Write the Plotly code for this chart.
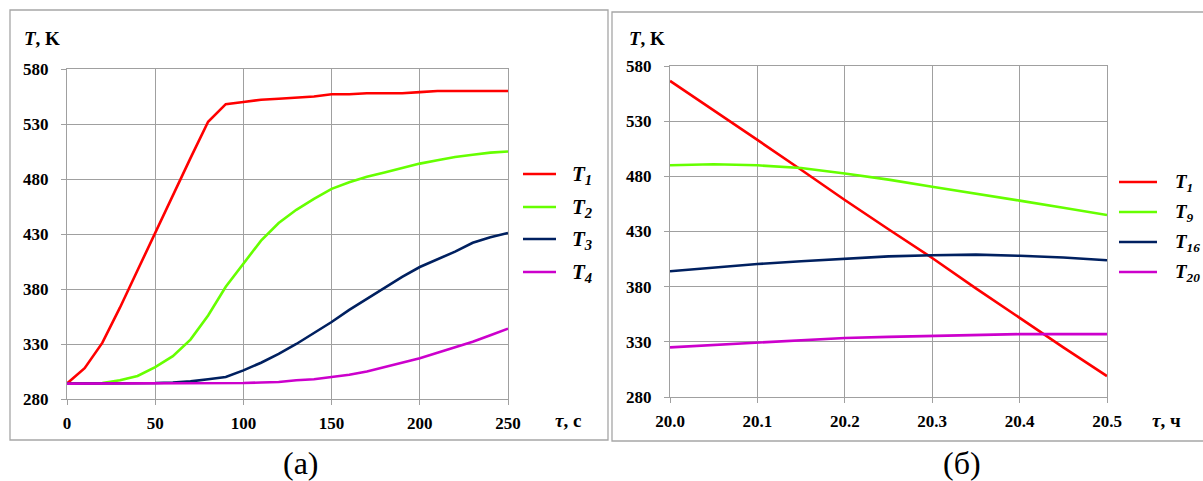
import plotly.graph_objects as go

# ---- panel (a): heating, time in seconds ----
tau_s = [0, 10, 20, 30, 40, 50, 60, 70, 80, 90, 100, 110, 120, 130, 140, 150,
         160, 170, 180, 190, 200, 210, 220, 230, 240, 250]
T1_a = [294, 308, 331, 363, 397, 431, 466, 499, 532, 548, 550, 552, 553, 554, 555, 557,
        557, 558, 558, 558, 559, 560, 560, 560, 560, 560]
T2_a = [294, 294, 294.5, 297, 301, 309, 319, 334, 356, 382, 403, 424, 440, 452, 462, 471,
        477, 482, 486, 490, 494, 497, 500, 502, 504, 505]
T3_a = [294, 294, 294, 294, 294, 294.5, 295, 296, 298, 300, 306, 313, 321, 330, 340, 350,
        361, 371, 381, 391, 400, 407, 414, 422, 427, 431]
T4_a = [294, 294, 294, 294, 294, 294, 294, 294, 294, 294, 294.5, 295, 295.5, 297, 298, 300,
        302, 305, 309, 313, 317, 322, 327, 332, 338, 344]

# ---- panel (б): cooling, time in hours ----
tau_h = [20.0, 20.05, 20.1, 20.15, 20.2, 20.25, 20.3, 20.35, 20.4, 20.45, 20.5]
T1_b = [566.5, 540, 513, 486, 458.5, 432, 406, 378.5, 351.5, 325, 299]
T9_b = [490, 491, 490, 487.5, 482.5, 477, 470.5, 464.5, 458, 451.5, 445]
T16_b = [394, 397.5, 400.5, 403, 405.5, 407.5, 408.5, 409, 408, 406.5, 404]
T20_b = [325, 327, 329, 331.5, 333.5, 334.5, 335.5, 336.5, 337, 337, 337]

y_ticks = [280, 330, 380, 430, 480, 530, 580]
x_ticks_a = [0, 50, 100, 150, 200, 250]
x_ticks_b = [20.0, 20.1, 20.2, 20.3, 20.4, 20.5]

names_a = ["1", "2", "3", "4"]
names_b = ["1", "9", "16", "20"]
colors = ["#ff0000", "#66ff00", "#002060", "#cc00cc"]

W, H = 1203, 481
SERIF = "Liberation Serif, Times New Roman, serif"
GRID = "#a0a0a0"


def px(x):
    return x / W


def py(y):
    return 1 - y / H


fig = go.Figure()

for ys, nm, c in zip([T1_a, T2_a, T3_a, T4_a], names_a, colors):
    fig.add_trace(go.Scatter(x=tau_s, y=ys, mode="lines", name="T" + nm,
                             line=dict(color=c, width=2.6), xaxis="x", yaxis="y",
                             showlegend=False))
for ys, nm, c in zip([T1_b, T9_b, T16_b, T20_b], names_b, colors):
    fig.add_trace(go.Scatter(x=tau_h, y=ys, mode="lines", name="T" + nm,
                             line=dict(color=c, width=2.6), xaxis="x2", yaxis="y2",
                             showlegend=False))

tickfont = dict(family=SERIF, size=17, color="black", weight="bold")
axis_common = dict(showgrid=True, gridcolor=GRID, gridwidth=1.3, showline=True,
                   linecolor=GRID, linewidth=1.3, mirror=True, ticks="outside",
                   ticklen=5, tickcolor=GRID, tickwidth=1.3, zeroline=False,
                   tickfont=tickfont, fixedrange=True, automargin=False)

fig.update_layout(
    width=W, height=H,
    autosize=False,
    margin=dict(l=0, r=0, t=0, b=0, pad=0, autoexpand=False),
    font=dict(family=SERIF, size=16, color="black"),
    paper_bgcolor="white", plot_bgcolor="white",
    showlegend=False,
    xaxis=dict(domain=[px(67), px(508)], range=[0, 250], tickvals=x_ticks_a,
               anchor="y", ticklabelstandoff=3, **axis_common),
    yaxis=dict(domain=[py(399), py(69)], range=[280, 580], tickvals=y_ticks,
               anchor="x", ticklabelstandoff=9, **axis_common),
    xaxis2=dict(domain=[px(670), px(1107)], range=[20.0, 20.5], tickvals=x_ticks_b,
                tickformat=".1f", anchor="y2", ticklabelstandoff=3, **axis_common),
    yaxis2=dict(domain=[py(397), py(66)], range=[280, 580], tickvals=y_ticks,
                anchor="x2", ticklabelstandoff=9, **axis_common),
)

# outer frames of the two panels
fig.add_shape(type="rect", xref="paper", yref="paper",
              x0=px(10), x1=px(608), y0=py(440), y1=py(10),
              line=dict(color="#a6a6a6", width=1.3))
fig.add_shape(type="rect", xref="paper", yref="paper",
              x0=px(612), x1=px(1215), y0=py(441), y1=py(12),
              line=dict(color="#a6a6a6", width=1.3))


def label(text, x, y, size, xanchor="center"):
    fig.add_annotation(text=text, xref="paper", yref="paper", x=px(x), y=py(y),
                       xanchor=xanchor, yanchor="middle", showarrow=False,
                       font=dict(family=SERIF, size=size, color="black"))


# axis titles
label("<b><i>T</i>, K</b>", 22, 38, 19, "left")
label("<b><i>T</i>, K</b>", 627, 38, 19, "left")
label("<b><i>τ</i>, с</b>", 553, 420, 19, "left")
label("<b><i>τ</i>, ч</b>", 1150, 420, 19, "left")

# panel captions
label("(a)", 301, 463, 32)
label("(б)", 962, 463, 32)

# legends
leg_a_y = [174, 207, 239, 272]
leg_b_y = [182, 212, 242, 272]
for nm, c, yy in zip(names_a, colors, leg_a_y):
    fig.add_shape(type="line", xref="paper", yref="paper", x0=px(523), x1=px(556),
                  y0=py(yy), y1=py(yy), line=dict(color=c, width=2.6))
    label(f"<b><i>T<sub>{nm}</sub></i></b>", 570, yy + 1, 21, "left")
for nm, c, yy in zip(names_b, colors, leg_b_y):
    fig.add_shape(type="line", xref="paper", yref="paper", x0=px(1119), x1=px(1157),
                  y0=py(yy), y1=py(yy), line=dict(color=c, width=2.6))
    label(f"<b><i>T<sub>{nm}</sub></i></b>", 1173, yy + 1, 19, "left")

fig.write_html("out.html")
